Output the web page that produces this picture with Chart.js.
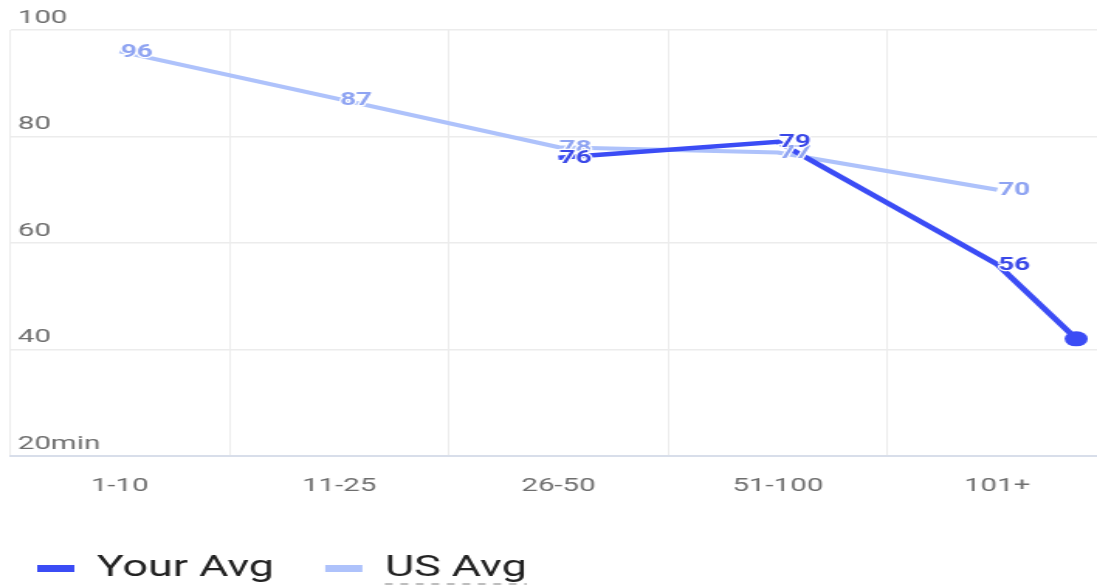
<!DOCTYPE html>
<html>
<head>
<meta charset="utf-8">
<title>Average time by group size</title>
<script src="https://cdn.jsdelivr.net/npm/chart.js@4.4.1/dist/chart.umd.min.js"></script>
<style>
  html, body { margin: 0; padding: 0; background: #fff; overflow: hidden; }
  /* the chart is laid out narrow (phone width) and shown stretched to full width */
  #chart { display: block; width: 1097px; height: 587px; }
</style>
</head>
<body>
<canvas id="chart" width="708" height="587" style="width:1097px;height:587px"></canvas>
<script>
const categories = ["1-10", "11-25", "26-50", "51-100", "101+"];
const yourAvg = [null, null, 76, 79, 56];
const usAvg = [96, 87, 78, 77, 70];
// most recent reading, sits just past the last bucket
const yourLatest = 42;
const yourLatestPos = 4.36;
const yTicks = [20, 40, 60, 80, 100];
const yTickLabels = ["20min", "40", "60", "80", "100"];

const YOUR_COLOR = "#3b4cf5";
const US_COLOR = "#aec2fb";
const FONT = "Roboto, 'Noto Sans', sans-serif";

function toPoints(values) {
  return values
    .map((v, i) => ({ x: i, y: v }))
    .filter(p => p.y !== null);
}

const yourPoints = toPoints(yourAvg).concat([{ x: yourLatestPos, y: yourLatest, latest: true }]);
const usPoints = toPoints(usAvg);

// bold value beside each point, white halo so it stays readable over the lines
const valueLabels = {
  id: "valueLabels",
  afterDatasetsDraw(chart) {
    const ctx = chart.ctx;
    ctx.save();
    ctx.font = "bold 18px " + FONT;
    ctx.textAlign = "center";
    ctx.textBaseline = "middle";
    ctx.lineJoin = "round";
    for (let d = chart.data.datasets.length - 1; d >= 0; d--) {
      const ds = chart.data.datasets[d];
      const meta = chart.getDatasetMeta(d);
      meta.data.forEach((pt, i) => {
        const raw = ds.data[i];
        if (raw.latest) return;
        const x = pt.x + 11;
        const y = pt.y + 1;
        ctx.lineWidth = 2.5;
        ctx.strokeStyle = "#fff";
        ctx.strokeText(String(raw.y), x, y);
        ctx.fillStyle = ds.labelColor;
        ctx.fillText(String(raw.y), x, y);
      });
    }
    ctx.restore();
  }
};

// dashed underline under the "US Avg" legend entry
const legendUnderline = {
  id: "legendUnderline",
  afterDraw(chart) {
    const legend = chart.legend;
    const box = legend.legendHitBoxes[1];
    if (!box) return;
    const lab = legend.options.labels;
    const x0 = box.left + lab.boxWidth + lab.font.size / 2;
    const x1 = box.left + box.width;
    const y = box.top + 30;
    const ctx = chart.ctx;
    ctx.save();
    ctx.strokeStyle = "#a8a8a8";
    ctx.lineWidth = 1.5;
    ctx.setLineDash([5, 5]);
    ctx.beginPath();
    ctx.moveTo(x0, y);
    ctx.lineTo(x1, y);
    ctx.stroke();
    ctx.restore();
  }
};

new Chart(document.getElementById("chart"), {
  type: "line",
  data: {
    datasets: [
      {
        label: "Your Avg",
        data: yourPoints,
        borderColor: YOUR_COLOR,
        backgroundColor: YOUR_COLOR,
        borderWidth: 4.5,
        pointRadius: c => (c.raw && c.raw.latest ? 7.5 : 0),
        pointBorderWidth: 0,
        pointHoverRadius: 0,
        tension: 0,
        labelColor: "#3a48e8"
      },
      {
        label: "US Avg",
        data: usPoints,
        borderColor: US_COLOR,
        backgroundColor: US_COLOR,
        borderWidth: 4,
        pointRadius: 0,
        pointHoverRadius: 0,
        tension: 0,
        labelColor: "#8fa4f2"
      }
    ]
  },
  options: {
    responsive: false,
    animation: false,
    events: [],
    // legend sits a bit left of the plot and low in the canvas
    layout: {
      autoPadding: false,
      padding: { top: 30, left: -9, right: 0, bottom: -6 }
    },
    plugins: {
      tooltip: { enabled: false },
      legend: {
        position: "bottom",
        align: "start",
        labels: {
          boxWidth: 24,
          boxHeight: 7,
          useBorderRadius: true,
          borderRadius: 3.5,
          padding: 33,
          color: "#222",
          font: { family: FONT, size: 29 },
          generateLabels: chart => chart.data.datasets.map((ds, i) => ({
            text: ds.label,
            fillStyle: ds.borderColor,
            strokeStyle: ds.borderColor,
            lineWidth: 0,
            fontColor: "#222",
            hidden: false,
            datasetIndex: i
          }))
        }
      }
    },
    scales: {
      x: {
        type: "linear",
        min: -0.5,
        max: 4.455,
        afterBuildTicks: s => { s.ticks = categories.map((c, i) => ({ value: i })); },
        afterFit: s => {
          s.height = 65;
          s.paddingLeft = 0;
          s.paddingRight = 0;
        },
        ticks: {
          callback: v => categories[v],
          color: "#6e6e6e",
          font: { family: FONT, size: 19 },
          padding: 19,
          maxRotation: 0,
          autoSkip: false
        },
        grid: { offset: true, color: "#ececec", lineWidth: 1, drawTicks: false },
        border: { color: "#d8deea", width: 2 }
      },
      y: {
        min: 20,
        max: 100,
        afterBuildTicks: s => { s.ticks = yTicks.map(v => ({ value: v })); },
        afterFit: s => { s.width = 15.5; },
        ticks: {
          mirror: true,
          padding: 5,
          labelOffset: -12,
          callback: (v, i) => yTickLabels[i],
          color: "#6e6e6e",
          font: { family: FONT, size: 19 }
        },
        grid: { color: "#ececec", lineWidth: 1.5, drawTicks: false },
        border: { display: false }
      }
    }
  },
  plugins: [valueLabels, legendUnderline]
});
</script>
</body>
</html>
